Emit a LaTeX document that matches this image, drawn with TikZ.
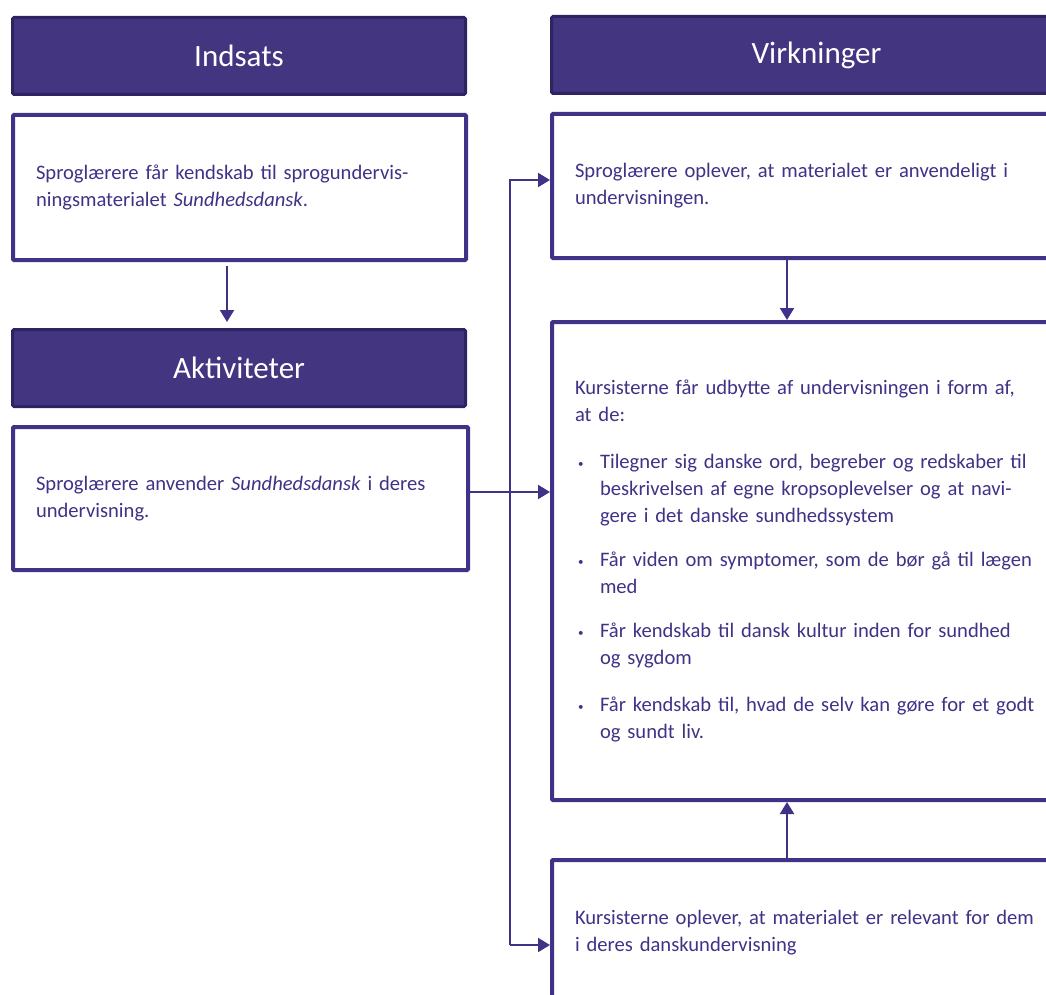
\documentclass[tikz,border=0pt]{standalone}
\usepackage{fontspec}
\setmainfont{Carlito}[WordSpace=0.7]
\usetikzlibrary{arrows.meta,calc}
\definecolor{lila}{HTML}{3F3287}
\definecolor{hfill}{HTML}{43357F}
\definecolor{hline}{HTML}{2E2462}
\newcommand\punkt{\makebox[25pt][l]{\hspace{3pt}\raisebox{1pt}{\fontsize{11}{11}\selectfont\textbullet}}}
\newcommand\rykind{\hspace*{25pt}}
\begin{document}
\begin{tikzpicture}[x=1pt,y=-1pt,
 head/.style={draw=hline,fill=hfill,line width=3pt,rounded corners=1.5pt,text=white,font=\fontsize{31}{36}\selectfont,minimum height=77pt,anchor=north west},
 box/.style={draw=lila,line width=4pt,rounded corners=1pt,text=lila,font=\fontsize{20.6}{27}\selectfont,align=left,inner xsep=23pt,anchor=north west},
 arr/.style={draw=lila,line width=2pt,-{Triangle[length=12pt,width=14pt]}}]
\useasboundingbox(0,0)rectangle(1046,995);\clip(0,0)rectangle(1046,995);
\node[head,minimum width=453pt](ind)at(11,16){Indsats};
\node[box,minimum height=145pt,text width=407pt](b1)at(11,113){Sproglærere får kendskab til sprogundervis-\\ningsmaterialet \textit{Sundhedsdansk}.};
\node[head,minimum width=453pt](akt)at(11,328){Aktiviteter};
\node[box,minimum height=143pt,text width=409pt](b2)at(11,425){Sproglærere anvender \textit{Sundhedsdansk} i deres\\undervisning.};
\node[head,minimum width=530pt](virk)at(550,15){Virkninger};
\node[box,minimum height=144pt,text width=484pt](b3)at(550,112){Sproglærere oplever, at materialet er anvendeligt i\\undervisningen.};
\node[box,minimum height=478pt,text width=484pt](b4)at(550,320){Kursisterne får udbytte af undervisningen i form af,\\at de:\\[20pt]
\punkt Tilegner sig danske ord, begreber og redskaber til\\\rykind beskrivelsen af egne kropsoplevelser og at navi-\\\rykind gere i det danske sundhedssystem\\[17pt]
\punkt Får viden om symptomer, som de bør gå til lægen\\\rykind med\\[17pt]
\punkt Får kendskab til dansk kultur inden for sundhed\\\rykind og sygdom\\[20pt]
\punkt Får kendskab til, hvad de selv kan gøre for et godt\\\rykind og sundt liv.};
\node[box,minimum height=146pt,text width=484pt](b5)at(550,858){Kursisterne oplever, at materialet er relevant for dem\\i deres danskundervisning};
\coordinate(lx)at(227,0);\coordinate(vx)at(787,0);\coordinate(t2)at(510,492);\coordinate(t3)at(510,180);\coordinate(t5)at(510,945);
\draw[arr,shorten <=4pt,shorten >=6pt](b1.south-|lx)--(akt.north-|lx);
\draw[arr](b2.east|-t2)--(t2-|b4.west);
\draw[arr](b3.south-|vx)--(b4.north-|vx);
\draw[arr](b5.north-|vx)--(b4.south-|vx);
\draw[arr](t5)--(t3)--(t3-|b3.west);
\draw[arr](t5)--(t5-|b5.west);
\end{tikzpicture}
\end{document}
